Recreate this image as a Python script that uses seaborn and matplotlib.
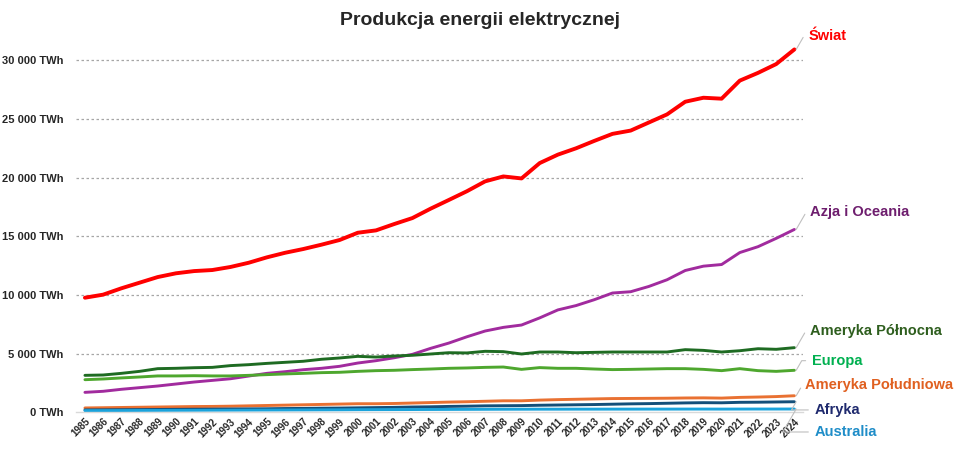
import pandas as pd
import matplotlib.pyplot as plt
import seaborn as sns

years = list(range(1985, 2025))

swiat = [9770, 10030, 10570, 11050, 11530, 11850, 12040, 12130, 12390, 12750,
         13210, 13600, 13920, 14290, 14690, 15310, 15510, 16050, 16560, 17360,
         18100, 18850, 19690, 20110, 19940, 21250, 21970, 22510, 23140, 23740,
         24020, 24710, 25400, 26480, 26820, 26740, 28280, 28940, 29690, 30940]
azja = [1700, 1790, 1960, 2100, 2240, 2410, 2580, 2720, 2860, 3090,
        3320, 3460, 3630, 3750, 3920, 4200, 4400, 4650, 4940, 5450,
        5900, 6440, 6930, 7240, 7440, 8050, 8730, 9100, 9600, 10170,
        10280, 10730, 11300, 12090, 12460, 12600, 13620, 14120, 14830, 15590]
ameryka_pn = [3150, 3180, 3320, 3490, 3720, 3750, 3800, 3830, 3980, 4060,
              4170, 4260, 4350, 4520, 4630, 4770, 4710, 4800, 4860, 4970,
              5080, 5060, 5200, 5170, 4970, 5140, 5140, 5080, 5110, 5140,
              5140, 5140, 5140, 5340, 5280, 5140, 5250, 5420, 5370, 5510]
europa = [2780, 2840, 2930, 3010, 3100, 3100, 3120, 3100, 3100, 3150,
          3210, 3270, 3320, 3380, 3410, 3490, 3550, 3580, 3640, 3690,
          3750, 3780, 3830, 3860, 3660, 3810, 3750, 3750, 3690, 3640,
          3660, 3690, 3720, 3720, 3660, 3550, 3720, 3550, 3490, 3580]
ameryka_pd = [370, 390, 410, 430, 450, 470, 490, 500, 520, 550,
              580, 610, 640, 670, 700, 730, 730, 750, 790, 830,
              870, 900, 940, 980, 980, 1040, 1080, 1110, 1140, 1170,
              1180, 1190, 1200, 1220, 1230, 1210, 1270, 1300, 1340, 1410]
afryka = [200, 210, 220, 230, 240, 250, 260, 270, 280, 290,
          300, 320, 330, 350, 360, 380, 400, 420, 450, 470,
          500, 520, 550, 560, 570, 600, 620, 640, 660, 690,
          720, 740, 770, 800, 820, 810, 850, 860, 880, 900]
australia = [140, 145, 150, 155, 160, 165, 170, 175, 180, 185,
             190, 195, 200, 205, 210, 220, 225, 230, 235, 240,
             245, 250, 255, 260, 262, 265, 265, 268, 268, 270,
             270, 272, 272, 274, 275, 272, 275, 278, 278, 280]

regions = ['Świat', 'Azja i Oceania', 'Ameryka Północna', 'Europa',
           'Ameryka Południowa', 'Afryka', 'Australia']
series = [swiat, azja, ameryka_pn, europa, ameryka_pd, afryka, australia]

line_colors = ['#ff0000', '#a12b9e', '#1e6b22', '#4ea72e', '#e97132', '#134f7a', '#1aa3dc']
text_colors = ['#ff0000', '#6e1e6e', '#2e5e1e', '#00b050', '#e06020', '#1f2a6e', '#1f8dc8']

# label placement (x in years, y in TWh)
label_pos = [(2024.8, 32060), (2024.85, 17070), (2024.85, 6930), (2024.95, 4400),
             (2024.6, 2330), (2025.1, 200), (2025.1, -1680)]

df = pd.DataFrame({'rok': years * len(regions),
                   'region': [r for r in regions for _ in years],
                   'TWh': [v for s in series for v in s]})

sns.set_style('white')
plt.rcParams['font.family'] = ['Liberation Sans', 'DejaVu Sans']

fig = plt.figure(figsize=(9.6, 4.5), dpi=100)
ax = fig.add_axes([0.079, 0.0838, 0.757, 0.834])

for r, c in zip(regions, line_colors):
    sub = df[df['region'] == r]
    sns.lineplot(data=sub, x='rok', y='TWh', color=c,
                 lw=2.8 if r == 'Świat' else 2.1, ax=ax, legend=False)

ax.set_xlim(1984.5, 2024.45)
ax.set_ylim(0, 32000)
ax.set_yticks(range(0, 30001, 5000))
ax.set_yticklabels([f'{v:,}'.replace(',', ' ') + ' TWh' for v in range(0, 30001, 5000)],
                   fontsize=8, fontweight='bold')
ax.set_xticks(years)
ax.set_xticklabels([str(y) for y in years], rotation=45, fontsize=7,
                   fontweight='bold', ha='right', rotation_mode='anchor')
ax.tick_params(axis='both', length=0, pad=3)
ax.tick_params(axis='y', pad=9)
ax.set_xlabel('')
ax.set_ylabel('')

for v in range(5000, 30001, 5000):
    ax.axhline(v, color='#a6a6a6', lw=0.9, ls=(0, (2, 2)), zorder=0)

for side in ['top', 'right', 'left']:
    ax.spines[side].set_visible(False)
ax.spines['bottom'].set_color('#d9d9d9')
ax.spines['bottom'].set_linewidth(1)

for r, s, tc, (lx, ly) in zip(regions, series, text_colors, label_pos):
    ax.annotate(r, xy=(years[-1] + 0.1, s[-1]), xytext=(lx, ly),
                fontsize=10.5, fontweight='bold', color=tc, va='center', ha='left',
                annotation_clip=False,
                arrowprops=dict(arrowstyle='-', color='#bfbfbf', lw=0.8,
                                shrinkA=2, shrinkB=0,
                                connectionstyle='angle,angleA=0,angleB=60,rad=0'))

fig.text(0.5, 0.955, 'Produkcja energii elektrycznej', ha='center', va='center',
         fontsize=14, fontweight='bold')

fig.savefig('out.png', dpi=100)
